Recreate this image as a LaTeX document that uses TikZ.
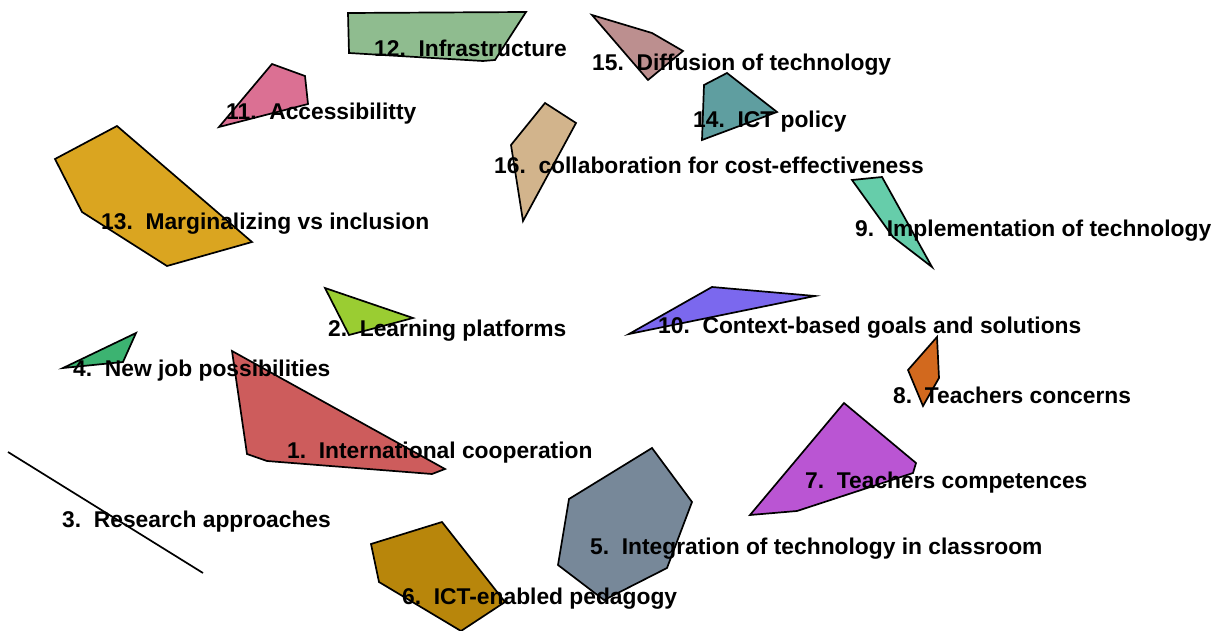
\documentclass[tikz,border=0pt]{standalone}
\usepackage{fontspec}
\setmainfont{Liberation Sans}
\definecolor{c1}{HTML}{CD5C5C}
\definecolor{c2}{HTML}{9ACD32}
\definecolor{c4}{HTML}{3CB371}
\definecolor{c5}{HTML}{778899}
\definecolor{c6}{HTML}{B8860B}
\definecolor{c7}{HTML}{BA55D3}
\definecolor{c8}{HTML}{D2691E}
\definecolor{c9}{HTML}{66CDAA}
\definecolor{c10}{HTML}{7B68EE}
\definecolor{c11}{HTML}{DB7093}
\definecolor{c12}{HTML}{8FBC8F}
\definecolor{c13}{HTML}{DAA520}
\definecolor{c14}{HTML}{5F9EA0}
\definecolor{c15}{HTML}{BC8F8F}
\definecolor{c16}{HTML}{D2B48C}
\tikzset{
  hull/.style={draw=black, line width=1.7pt, line join=miter},
  lab/.style={anchor=west, inner sep=0pt, yshift=-2pt, font=\fontsize{22.8}{24}\selectfont\bfseries}
}
\begin{document}
\begin{tikzpicture}[x=1pt,y=-1pt]
\useasboundingbox (0,0) rectangle (1223,631);
% polygons
\filldraw[hull, fill=c13] (55,159) -- (117,126) -- (252,242) -- (167,266) -- (82,212) -- cycle;
\filldraw[hull, fill=c11] (219,127) -- (272,64) -- (305,76) -- (308,104) -- cycle;
\filldraw[hull, fill=c12] (348,13) -- (526,12) -- (495,60) -- (483,61) -- (349,53) -- cycle;
\filldraw[hull, fill=c15] (592,15) -- (652,33) -- (683,51) -- (648,80) -- cycle;
\filldraw[hull, fill=c14] (704,85) -- (727,73) -- (777,112) -- (702,140) -- cycle;
\filldraw[hull, fill=c16] (545,103) -- (576,123) -- (523,221) -- (511,145) -- cycle;
\filldraw[hull, fill=c9] (852,180) -- (882,177) -- (932,267) -- (893,237) -- cycle;
\filldraw[hull, fill=c2] (325,288) -- (413,318) -- (349,335) -- cycle;
\filldraw[hull, fill=c10] (629,334) -- (712,287) -- (815,296) -- cycle;
\filldraw[hull, fill=c4] (63,368) -- (136,333) -- (123,362) -- cycle;
\filldraw[hull, fill=c8] (937,337) -- (939,378) -- (923,406) -- (908,370) -- cycle;
\filldraw[hull, fill=c1] (232,351) -- (445,469) -- (432,474) -- (267,461) -- (247,454) -- cycle;
\filldraw[hull, fill=c7] (844,403) -- (916,463) -- (913,473) -- (797,511) -- (750,515) -- cycle;
\draw[line width=1.7pt] (8,452) -- (203,573);
\filldraw[hull, fill=c5] (569,499) -- (652,448) -- (692,502) -- (667,568) -- (604,600) -- (558,565) -- cycle;
\filldraw[hull, fill=c6] (371,544) -- (442,522) -- (505,602) -- (461,631) -- (379,582) -- cycle;
% labels
\node[lab] (l11) at (226,112) {11.\ \ Accessibilitty};
\node[lab] (l12) at (374,46) {12.\ \ Infrastructure};
\node[lab] (l15) at (592,63) {15.\ \ Diffusion of technology};
\node[lab] (l14) at (693,120) {14.\ \ ICT policy};
\node[lab] (l16) at (494,163) {16.\ \ collaboration for cost-effectiveness};
\node[lab] (l13) at (101,222) {13.\ \ Marginalizing vs inclusion};
\node[lab] (l9) at (855,229) {9.\ \ Implementation of technology};
\node[lab] (l2) at (328,329) {2.\ \ Learning platforms};
\node[lab] (l10) at (658,326) {10.\ \ Context-based goals and solutions};
\node[lab] (l4) at (73,369) {4.\ \ New job possibilities};
\node[lab] (l8) at (893,393) {8.\ \ Teachers concerns};
\node[lab] (l1) at (287,451) {1.\ \ International cooperation};
\node[lab] (l7) at (805,481) {7.\ \ Teachers competences};
\node[lab] (l3) at (62,520) {3.\ \ Research approaches};
\node[lab] (l5) at (590,547) {5.\ \ Integration of technology in classroom};
\node[lab] (l6) at (402,597) {6.\ \ ICT-enabled pedagogy};
\end{tikzpicture}
\end{document}
